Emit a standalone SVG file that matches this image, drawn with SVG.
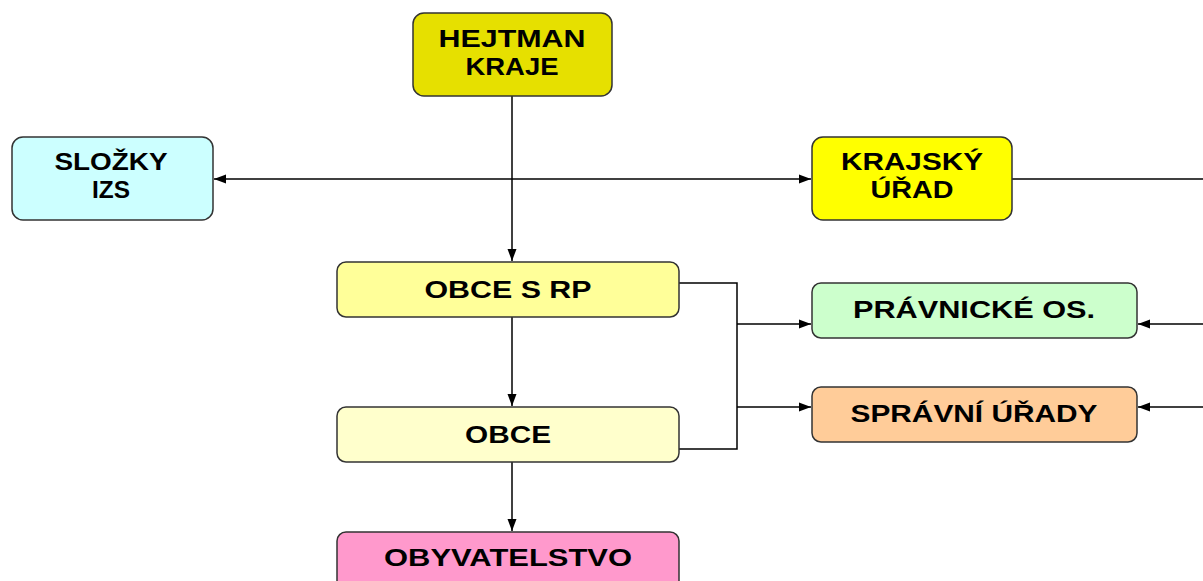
<svg xmlns="http://www.w3.org/2000/svg" width="1203" height="581" viewBox="0 0 1203 581">
<defs>
<marker id="arr" viewBox="0 0 12 10" refX="12" refY="5" markerWidth="12" markerHeight="10" markerUnits="userSpaceOnUse" orient="auto">
<path d="M0,0.5 L12,5 L0,9.5 z" fill="#000"/>
</marker>
</defs>
<style>
.box{stroke:#333;stroke-width:1.5}
.t{font-family:"Liberation Sans",Arial,sans-serif;font-weight:bold;font-size:24px;fill:#000;text-anchor:middle}
.c{fill:none;stroke:#000;stroke-width:1.5}
</style>
<rect width="1203" height="581" fill="#fff"/>
<g id="connectors">
<line class="c" x1="512" y1="96" x2="512" y2="261" marker-end="url(#arr)"/>
<line class="c" x1="512" y1="179" x2="214" y2="179" marker-end="url(#arr)"/>
<line class="c" x1="512" y1="179" x2="811" y2="179" marker-end="url(#arr)"/>
<line class="c" x1="1012" y1="179" x2="1203" y2="179"/>
<line class="c" x1="512" y1="317" x2="512" y2="406" marker-end="url(#arr)"/>
<line class="c" x1="512" y1="462" x2="512" y2="531" marker-end="url(#arr)"/>
<polyline class="c" points="679,283 737,283 737,449 679,449"/>
<line class="c" x1="737" y1="324" x2="811" y2="324" marker-end="url(#arr)"/>
<line class="c" x1="737" y1="407" x2="811" y2="407" marker-end="url(#arr)"/>
<line class="c" x1="1203" y1="324" x2="1138" y2="324" marker-end="url(#arr)"/>
<line class="c" x1="1203" y1="407" x2="1138" y2="407" marker-end="url(#arr)"/>
</g>
<g id="hejtman">
<rect class="box" x="413" y="13" width="199" height="83" rx="11" fill="#e6e000"/>
<text class="t" x="512" y="47" textLength="147" lengthAdjust="spacingAndGlyphs">HEJTMAN</text>
<text class="t" x="512" y="75" textLength="93" lengthAdjust="spacingAndGlyphs">KRAJE</text>
</g>
<g id="slozky">
<rect class="box" x="12" y="137" width="201" height="83" rx="11" fill="#ccffff"/>
<text class="t" x="111" y="170" textLength="113" lengthAdjust="spacingAndGlyphs">SLOŽKY</text>
<text class="t" x="111" y="198" textLength="38" lengthAdjust="spacingAndGlyphs">IZS</text>
</g>
<g id="krajsky">
<rect class="box" x="812" y="137" width="200" height="83" rx="11" fill="#ffff00"/>
<text class="t" x="912" y="170" textLength="142" lengthAdjust="spacingAndGlyphs">KRAJSKÝ</text>
<text class="t" x="912" y="198" textLength="83" lengthAdjust="spacingAndGlyphs">ÚŘAD</text>
</g>
<g id="obcesrp">
<rect class="box" x="337" y="262" width="342" height="55" rx="9" fill="#ffff99"/>
<text class="t" x="508" y="298" textLength="167" lengthAdjust="spacingAndGlyphs">OBCE S RP</text>
</g>
<g id="obce">
<rect class="box" x="337" y="407" width="342" height="55" rx="9" fill="#ffffcc"/>
<text class="t" x="508" y="443" textLength="86" lengthAdjust="spacingAndGlyphs">OBCE</text>
</g>
<g id="pravnicke">
<rect class="box" x="812" y="283" width="325" height="55" rx="9" fill="#ccffcc"/>
<text class="t" x="974" y="318" textLength="242" lengthAdjust="spacingAndGlyphs">PRÁVNICKÉ OS.</text>
</g>
<g id="spravni">
<rect class="box" x="812" y="387" width="325" height="55" rx="9" fill="#ffcc99"/>
<text class="t" x="974" y="422" textLength="247" lengthAdjust="spacingAndGlyphs">SPRÁVNÍ ÚŘADY</text>
</g>
<g id="obyvatelstvo">
<rect class="box" x="337" y="532" width="342" height="70" rx="9" fill="#ff99cc"/>
<text class="t" x="508" y="566" textLength="248" lengthAdjust="spacingAndGlyphs">OBYVATELSTVO</text>
</g>
</svg>
